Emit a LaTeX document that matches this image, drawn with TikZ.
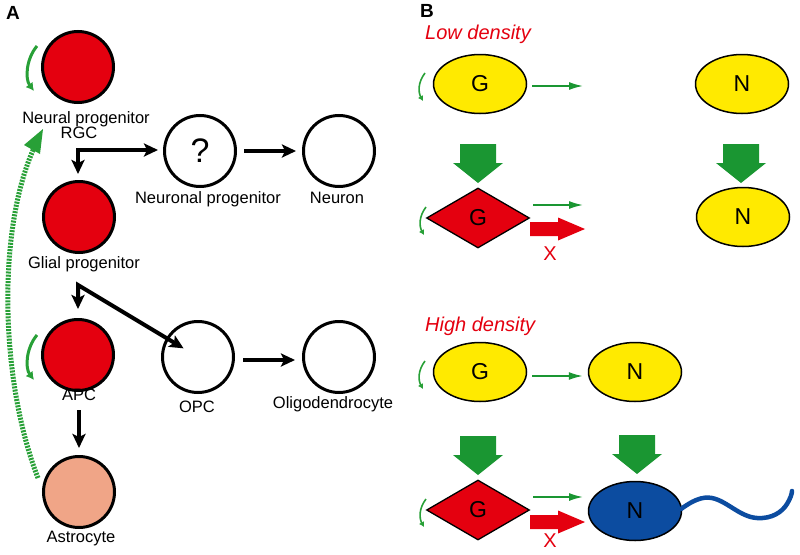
\documentclass[tikz,border=0pt]{standalone}
\usepackage{fontspec}
\setmainfont{Liberation Sans}
\usetikzlibrary{arrows.meta,shapes.geometric,calc}
\definecolor{cred}{RGB}{228,0,15}
\definecolor{cyel}{RGB}{255,234,0}
\definecolor{cgreen}{RGB}{26,150,50}
\definecolor{clgreen}{RGB}{40,160,55}
\definecolor{csalmon}{RGB}{240,165,135}
\definecolor{cblue}{RGB}{12,76,160}
\begin{document}
\begin{tikzpicture}[x=1pt,y=-1pt,
  cell/.style={circle,draw=black,line width=3pt,minimum size=71pt,inner sep=0pt},
  lbl/.style={font=\fontsize{16.5}{18}\selectfont,anchor=base,inner sep=0pt},
  arr/.style={line width=4pt,-{Stealth[length=14pt,width=13pt,inset=3pt]}},
  darr/.style={line width=4pt,{Stealth[length=14pt,width=13pt,inset=3pt]}-{Stealth[length=14pt,width=13pt,inset=3pt]}},
  ell/.style={ellipse,draw=black,line width=1.5pt,fill=cyel,minimum width=93pt,minimum height=59pt,inner sep=0pt,font=\fontsize{23}{24}\selectfont},
  dia/.style={diamond,draw=black,line width=1.3pt,fill=cred,minimum width=103pt,minimum height=60pt,inner sep=0pt,font=\fontsize{23}{24}\selectfont},
  thin/.style={cgreen,line width=1.6pt,-{Latex[length=14pt,width=8pt]}},
  curlA/.style={clgreen,line width=3pt,-{Latex[length=8pt,width=9pt]}},
  curlB/.style={clgreen,line width=1.6pt,-{Latex[length=5pt,width=6pt]}},
  head/.style={font=\fontsize{19}{20}\selectfont\bfseries,inner sep=0pt},
  dens/.style={font=\fontsize{20}{22}\selectfont\itshape,text=cred,anchor=base west,inner sep=0pt},
  xlab/.style={font=\fontsize{20}{21}\selectfont,text=cred,inner sep=0pt},
  downblk/.pic={\fill[cgreen] (-18,0) -- (18,0) -- (18,19) -- (25,19) -- (0,39) -- (-25,19) -- (-18,19) -- cycle;},
  rightblk/.pic={\fill[cred] (0,-7) -- (28,-7) -- (28,-11.5) -- (55,0) -- (28,11.5) -- (28,7) -- (0,7) -- cycle;},
  ]
\useasboundingbox (0,0) rectangle (800,554);

% ---------------- Panel A ----------------
\node[head] (hA) at (13,13) {A};

\node[cell,fill=cred] (rgc) at (78,67) {};
\node[cell] (np) at (200,151) {\fontsize{34}{36}\selectfont ?};
\node[cell] (neuron) at (339,151) {};
\node[cell,fill=cred] (gp) at (79,217) {};
\node[cell,fill=cred] (apc) at (78,355) {};
\node[cell] (opc) at (198,357) {};
\node[cell] (oligo) at (339,357) {};
\node[cell,fill=csalmon] (astro) at (79,492) {};

\node[lbl] (lrgc1) at (86,123) {Neural progenitor};
\node[lbl] (lrgc2) at (79,138) {RGC};
\node[lbl] (lnp) at (208,203) {Neuronal progenitor};
\node[lbl] (lneuron) at (337,203) {Neuron};
\node[lbl] (lgp) at (84,268) {Glial progenitor};
\node[lbl] (lapc) at (79,400) {APC};
\node[lbl] (lopc) at (197,412) {OPC};
\node[lbl] (loligo) at (333,408) {Oligodendrocyte};
\node[lbl] (lastro) at (81,542) {Astrocyte};

% curls
\draw[curlA] ($(rgc)+(-41,-21)$) .. controls ($(rgc)+(-52,-8)$) and ($(rgc)+(-53,12)$) .. ($(rgc)+(-44,24)$);
\draw[curlA] ($(apc)+(-41,-20)$) .. controls ($(apc)+(-52,-7)$) and ($(apc)+(-53,13)$) .. ($(apc)+(-44,25)$);

% elbow arrows
\coordinate (e1) at (78,150);
\draw[darr] ($(np.west)+(-5,-1)$) -- (e1) -- ($(gp.north)+(-1,-6)$);
\coordinate (e2) at (78,285);
\draw[darr] ($(apc.north)+(0,-9)$) -- (e2) -- ($(e2)!0.88!(opc)$);

\draw[arr,shorten <=7pt,shorten >=6pt] (np) -- (neuron);
\draw[arr] ($(opc.east)+(8,3)$) -- ($(oligo.west)+(-7,3)$);
\draw[arr] ($(lapc.south)+(0,10)$) -- ($(astro.north)+(0,-7)$);

% dotted return
\draw[clgreen,line width=5pt,dash pattern=on 2pt off 1.2pt]
  ($(astro)+(-41,-14)$) .. controls (0,380) and (-3,230) .. (34,148);
\coordinate (rtip) at (43,129);
\fill[clgreen] (rtip) -- ($(rtip)+(-19,16)$) -- ($(rtip)+(-3,25)$) -- cycle;

% ---------------- Panel B ----------------
\node[head] (hB) at (427,11) {B};
\node[dens] (low) at (425,39) {Low density};
\node[dens] (high) at (425,331) {High density};

% low density
\node[ell] (g1) at (480,84) {G};
\node[ell] (n1) at (742,84) {N};
\node[dia] (d1) at (478,218) {G};
\node[ell] (n2) at (743,217) {N};

\draw[curlB] ($(g1)+(-55,-11)$) .. controls ($(g1)+(-62,-2)$) and ($(g1)+(-62,8)$) .. ($(g1)+(-57,17)$);
\draw[curlB] ($(d1)+(-52,-11)$) .. controls ($(d1)+(-59,-2)$) and ($(d1)+(-59,8)$) .. ($(d1)+(-54,17)$);

\coordinate (t1) at (583,86);
\draw[thin] ($(g1.east)+(5,2)$) -- (t1);
\coordinate (t2) at (583,205);
\draw[thin] (533,205) -- (t2);
\pic at (478,144) {downblk};
\pic at (741,144) {downblk};
\pic at (530,229) {rightblk};
\node[xlab] (x1) at (550,254) {X};

% high density
\node[ell] (g3) at (480,372) {G};
\node[ell] (n3) at (635,372) {N};
\node[dia] (d3) at (478,510) {G};
\node[ell,fill=cblue] (n4) at (635,511) {N};

\draw[curlB] ($(g3)+(-55,-11)$) .. controls ($(g3)+(-62,-2)$) and ($(g3)+(-62,8)$) .. ($(g3)+(-57,17)$);
\draw[curlB] ($(d3)+(-52,-11)$) .. controls ($(d3)+(-59,-2)$) and ($(d3)+(-59,8)$) .. ($(d3)+(-54,17)$);

\draw[thin] ($(g3.east)+(5,4)$) -- ($(n3.west)+(-5,4)$);
\coordinate (t4) at (583,497);
\draw[thin] (533,497) -- (t4);
\pic at (478,436) {downblk};
\pic at (637,435) {downblk};
\pic at (530,522) {rightblk};
\node[xlab] (x2) at (550,541) {X};

% axon
\draw[cblue,line width=4.5pt,line cap=round]
  (681,509) .. controls (692,501) and (702,496) .. (712,498)
  .. controls (727,501) and (740,517) .. (757,518)
  .. controls (772,519) and (782,512) .. (787,504)
  .. controls (790,499) and (792,494) .. (792,491);
\end{tikzpicture}
\end{document}
